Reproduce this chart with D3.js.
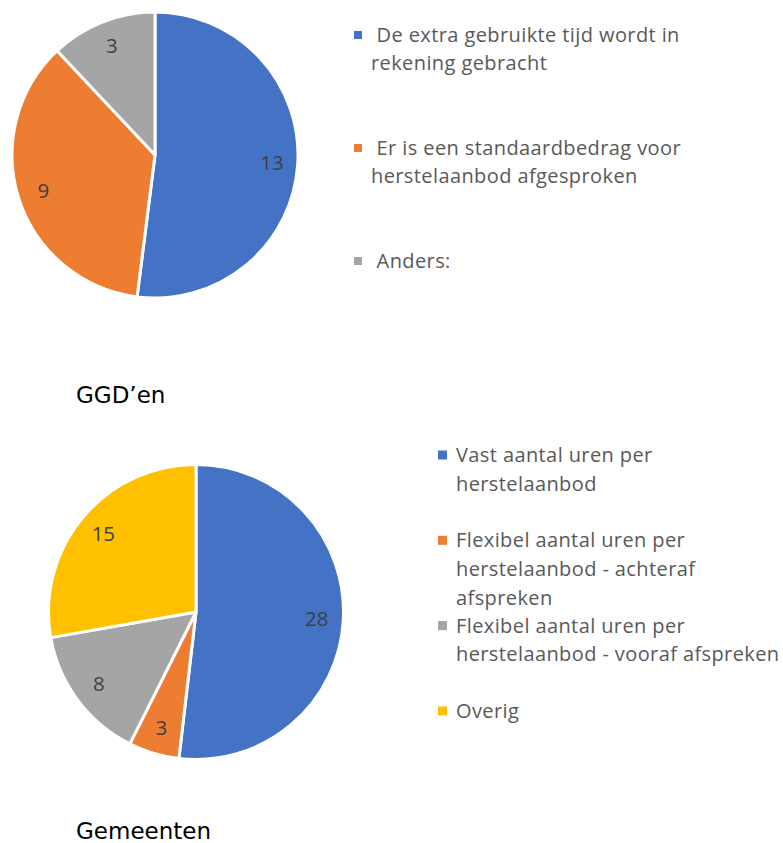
<!DOCTYPE html>
<html><head><meta charset="utf-8">
<script src="https://cdn.jsdelivr.net/npm/d3@7"></script>
<style>
html,body{margin:0;padding:0;background:#fff;}
svg{display:block;}
text{white-space:pre;}
</style></head>
<body>
<svg id="chart" width="783" height="843"></svg>
<script>
// ---- data ----
const ggdCategories = [" De extra gebruikte tijd wordt in\nrekening gebracht", " Er is een standaardbedrag voor\nherstelaanbod afgesproken", " Anders:"];
const ggdValues = [13, 9, 3];
const ggdTitle = "GGD\u2019en";

const gemCategories = ["Vast aantal uren per\nherstelaanbod", "Flexibel aantal uren per\nherstelaanbod - achteraf\nafspreken", "Flexibel aantal uren per\nherstelaanbod - vooraf afspreken", "Overig"];
const gemValues = [28, 3, 8, 15];
const gemTitle = "Gemeenten";

const palette = ["#4472C4", "#ED7D31", "#A5A5A5", "#FFC000"];

const svg = d3.select("#chart");

function drawPie(cfg) {
  const {cats, vals, cx, cy, r, legX, sqX, sqSize, legY0, slot, lineH, title, titleY} = cfg;
  const color = d3.scaleOrdinal().domain(cats).range(palette);
  const pie = d3.pie().sort(null).value(d => d.v);
  const data = pie(cats.map((c, i) => ({c, v: vals[i]})));
  const arc = d3.arc().innerRadius(0).outerRadius(r);
  const labelArc = d3.arc().innerRadius(r * 0.82).outerRadius(r * 0.82);
  const g = svg.append("g").attr("transform", `translate(${cx},${cy})`);
  g.selectAll("path").data(data).join("path")
    .attr("d", arc)
    .attr("fill", d => color(d.data.c))
    .attr("stroke", "#fff")
    .attr("stroke-width", 3)
    .attr("stroke-linejoin", "round");
  g.selectAll("text").data(data).join("text")
    .attr("transform", d => `translate(${labelArc.centroid(d)})`)
    .attr("text-anchor", "middle")
    .attr("dy", "0.35em")
    .attr("font-family", "'Open Sans', sans-serif")
    .attr("font-size", 20.5)
    .attr("fill", "#404040")
    .text(d => d.data.v);

  const leg = svg.append("g");
  cats.forEach((c, i) => {
    const by = legY0 + i * slot;
    leg.append("rect")
      .attr("x", sqX).attr("y", by - 7 - sqSize / 2)
      .attr("width", sqSize).attr("height", sqSize)
      .attr("fill", color(c));
    const t = leg.append("text")
      .attr("x", legX).attr("y", by)
      .attr("font-family", "'Open Sans', sans-serif")
      .attr("font-size", 20)
      .attr("letter-spacing", 0.4)
      .attr("fill", "#595959");
    c.split("\n").forEach((line, j) => {
      t.append("tspan").attr("x", legX).attr("y", by + j * lineH).text(line);
    });
  });

  svg.append("text")
    .attr("x", 76).attr("y", titleY)
    .attr("font-family", "'DejaVu Sans', sans-serif")
    .attr("font-size", 23)
    .attr("fill", "#000")
    .text(title);
}

drawPie({cats: ggdCategories, vals: ggdValues, cx: 155, cy: 155, r: 143,
  legX: 371, sqX: 354, sqSize: 8, legY0: 42, slot: 113, lineH: 28,
  title: ggdTitle, titleY: 403});
drawPie({cats: gemCategories, vals: gemValues, cx: 196, cy: 612, r: 147.5,
  legX: 456, sqX: 438, sqSize: 9, legY0: 462, slot: 85.3, lineH: 28.7,
  title: gemTitle, titleY: 839});
</script>
</body></html>
